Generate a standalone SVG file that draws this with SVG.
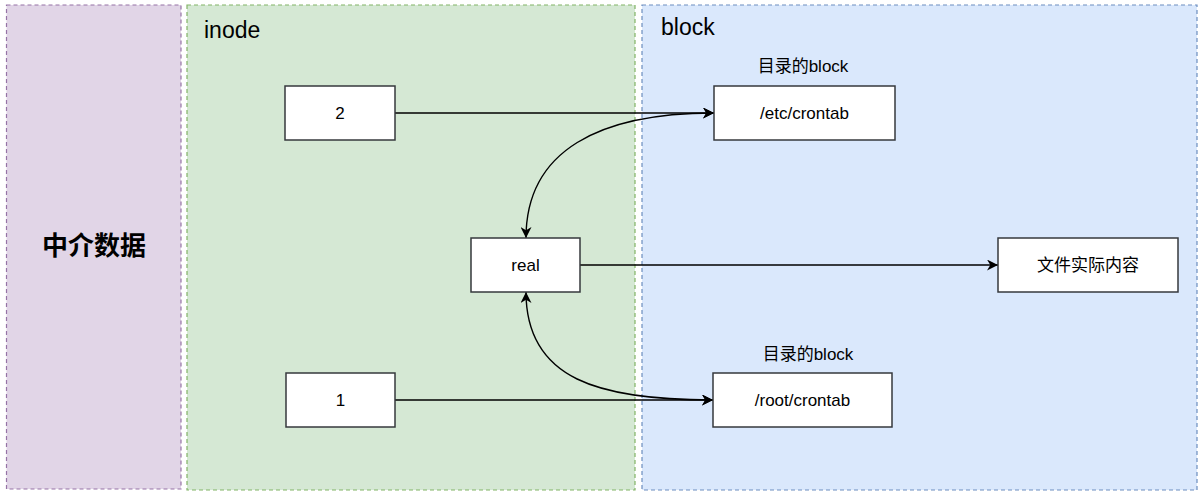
<svg xmlns="http://www.w3.org/2000/svg" width="1204" height="499" viewBox="0 0 1204 499">
<style>
.box{fill:#ffffff;stroke:#36393d;stroke-width:1.5}
.t{font-family:"Liberation Sans",Arial,"Noto Sans CJK SC",sans-serif;font-size:17px;fill:#000;text-anchor:middle;dominant-baseline:central}
.h{font-family:"Liberation Sans",Arial,sans-serif;font-size:23px;fill:#000}
.edge{fill:none;stroke:#000;stroke-width:1.4}
.panel{stroke-width:1.2;stroke-dasharray:4 3}
</style>
<defs>
<marker id="arr" viewBox="0 0 10 10" refX="10" refY="5" markerWidth="11" markerHeight="11" markerUnits="userSpaceOnUse" orient="auto-start-reverse">
<path d="M0,0 L10,5 L0,10 L3,5 z" fill="#000"/>
</marker>
</defs>
<rect width="1204" height="499" fill="#ffffff"/>
<g id="panel-meta">
<rect class="panel" x="6.5" y="5" width="174.5" height="484" fill="#e1d5e7" stroke="#9673a6"/>
<text x="94" y="246" style="font-family:'Liberation Sans',Arial,'Noto Sans CJK SC',sans-serif;font-size:26px;font-weight:bold;text-anchor:middle;dominant-baseline:central">中介数据</text>
</g>
<g id="panel-inode">
<rect class="panel" x="187" y="5" width="448" height="485" fill="#d5e8d4" stroke="#82b366"/>
<text class="h" x="204" y="38">inode</text>
</g>
<g id="panel-block">
<rect class="panel" x="642" y="5" width="555" height="485" fill="#dae8fc" stroke="#6c8ebf"/>
<text class="h" x="661" y="35">block</text>
</g>
<g id="connectors">
<path class="edge" d="M395,113 L714,113" marker-end="url(#arr)"/>
<path class="edge" d="M580,265 L998,265" marker-end="url(#arr)"/>
<path class="edge" d="M395,400 L713,400" marker-end="url(#arr)"/>
<path class="edge" d="M526,238 C526,150 600,113 714,113" marker-start="url(#arr)" marker-end="url(#arr)"/>
<path class="edge" d="M526,292 C526,380 600,400 713,400" marker-start="url(#arr)" marker-end="url(#arr)"/>
</g>
<g id="node-2">
<rect class="box" x="285" y="86" width="110" height="54"/>
<text class="t" x="340" y="113">2</text>
</g>
<g id="node-etc">
<text class="t" x="803" y="66">目录的block</text>
<rect class="box" x="714" y="86" width="181" height="54"/>
<text class="t" x="804.5" y="113">/etc/crontab</text>
</g>
<g id="node-real">
<rect class="box" x="471" y="238" width="109" height="54"/>
<text class="t" x="525.5" y="265">real</text>
</g>
<g id="node-content">
<rect class="box" x="998" y="238" width="180" height="54"/>
<text class="t" x="1088" y="265">文件实际内容</text>
</g>
<g id="node-1">
<rect class="box" x="286" y="373" width="109" height="54"/>
<text class="t" x="340.5" y="400">1</text>
</g>
<g id="node-root">
<text class="t" x="808" y="354">目录的block</text>
<rect class="box" x="713" y="373" width="179" height="54"/>
<text class="t" x="802.5" y="400">/root/crontab</text>
</g>
</svg>
